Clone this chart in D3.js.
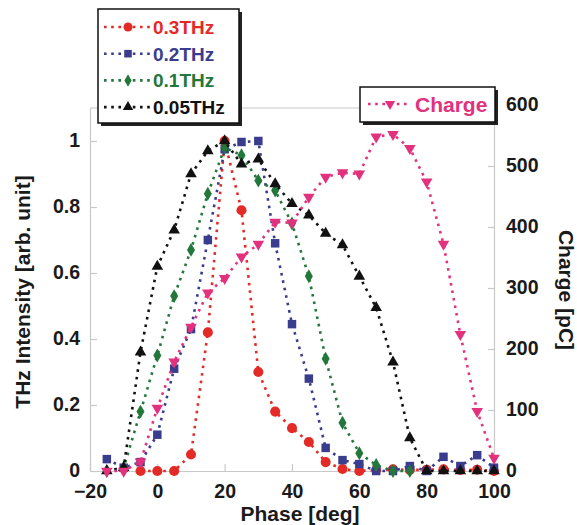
<!DOCTYPE html>
<html>
<head>
<meta charset="utf-8">
<script src="https://cdn.jsdelivr.net/npm/d3@7"></script>
<style>
  body { margin: 0; background: #fff; }
  text { font-family: "Liberation Sans", Arial, sans-serif; font-weight: bold; }
</style>
</head>
<body>
<div id="chart"></div>
<script>
var phase = [-15, -10, -5, 0, 5, 10, 15, 20, 25, 30, 35, 40, 45, 50, 55, 60, 65, 70, 75, 80, 85, 90, 95, 100];

var thz03 = [null, null, 0, 0, 0, 0.05, 0.42, 1.0, 0.79, 0.30, 0.18, 0.13, 0.088, 0.027, 0.006, 0, 0.003, 0.005, 0.003, 0.004, 0.005, 0.003, 0.004, 0];
var thz02 = [0.036, 0.01, 0.027, 0.11, 0.31, 0.43, 0.70, 0.975, 0.997, 1.0, 0.69, 0.445, 0.28, 0.07, 0.033, 0.021, 0, 0, 0.015, 0, 0.043, 0.015, 0.048, 0.01];
var thz01 = [0, 0.01, 0.18, 0.35, 0.53, 0.67, 0.84, 0.98, 0.957, 0.88, 0.85, 0.75, 0.59, 0.34, 0.146, 0.054, 0.018, 0, 0, null, null, null, null, null];
var thz005 = [0, 0.01, 0.36, 0.62, 0.73, 0.90, 0.97, 1.0, 0.93, 0.945, 0.87, 0.81, 0.775, 0.72, 0.685, 0.59, 0.495, 0.33, 0.10, 0, 0, 0, 0, 0];
var charge = [0, 0, 15, 103, 179, 236, 292, 316, 351, 372, 408, 407, 449, 482, 489, 487, 548, 552, 529, 474, 372, 224, 98, 21];

var xTicks = [-20, 0, 20, 40, 60, 80, 100];
var yTicks = [0, 0.2, 0.4, 0.6, 0.8, 1];
var y2Ticks = [0, 100, 200, 300, 400, 500, 600];

var series = [
  {name: "0.3THz", values: thz03, color: "#e42a26", symbol: d3.symbolCircle, size: 80},
  {name: "0.2THz", values: thz02, color: "#3a3c8e", symbol: d3.symbolSquare, size: 72},
  {name: "0.1THz", values: thz01, color: "#23773a", symbol: d3.symbolDiamond, size: 56},
  {name: "0.05THz", values: thz005, color: "#111111", symbol: d3.symbolTriangle, size: 58}
];
var pink = "#e2317d";

var W = 577, H = 525;
var margin = {top: 108, right: 83, bottom: 54, left: 90};
var width = W - margin.left - margin.right,
    height = H - margin.top - margin.bottom;

var svg = d3.select("#chart").append("svg")
  .attr("width", W).attr("height", H);
var g = svg.append("g").attr("transform", `translate(${margin.left},${margin.top})`);

var x = d3.scaleLinear().domain([-20, 100]).range([0, width]);
var y = d3.scaleLinear().domain([0, 1.1]).range([height, 0]);
var y2 = d3.scaleLinear().domain([0, 600]).range([height, -3]);

// axes (light grey, inward ticks)
var gx = g.append("g").attr("transform", `translate(0,${height})`)
  .call(d3.axisBottom(x).tickValues(xTicks).tickSize(-7).tickSizeOuter(0).tickPadding(13));
var gy = g.append("g")
  .call(d3.axisLeft(y).tickValues(yTicks).tickFormat(d => d).tickSize(-7).tickSizeOuter(0).tickPadding(10));
var gy2 = g.append("g").attr("transform", `translate(${width},0)`)
  .call(d3.axisRight(y2).tickValues(y2Ticks).tickSize(-6).tickSizeOuter(0).tickPadding(12));

[gx, gy, gy2].forEach(a => {
  a.select(".domain").attr("stroke", "#c8c8c8").attr("stroke-width", 1.2);
  a.selectAll(".tick line").attr("stroke", "#c8c8c8").attr("stroke-width", 1.2);
  a.selectAll(".tick text").attr("fill", "#1a1a1a").style("font-size", "19.5px");
});
gy.selectAll(".tick text").attr("dy", "0.3em");
gy2.selectAll(".tick text").attr("dy", "0.3em");
g.append("line").attr("x1", 0).attr("x2", width).attr("y1", 0).attr("y2", 0)
  .attr("stroke", "#c8c8c8").attr("stroke-width", 1.2);

// axis titles
svg.append("text")
  .attr("transform", `translate(30,292) rotate(-90)`)
  .attr("text-anchor", "middle").style("font-size", "21px").attr("fill", "#1a1a1a")
  .text("THz Intensity [arb. unit]");
svg.append("text")
  .attr("transform", `translate(559,290) rotate(90)`)
  .attr("text-anchor", "middle").style("font-size", "21px").attr("fill", "#1a1a1a")
  .text("Charge [pC]");
svg.append("text")
  .attr("x", 300).attr("y", 521)
  .attr("text-anchor", "middle").style("font-size", "21px").attr("fill", "#1a1a1a")
  .text("Phase [deg]");

function drawSeries(vals, color, symbol, size, yScale, rot) {
  var pts = phase.map((p, i) => ({p: p, v: vals[i]})).filter(d => d.v != null);
  var line = d3.line().x(d => x(d.p)).y(d => yScale(d.v));
  g.append("path").datum(pts)
    .attr("d", line)
    .attr("fill", "none")
    .attr("stroke", color)
    .attr("stroke-width", 2.6)
    .attr("stroke-dasharray", "2.6,5");
  g.selectAll(null).data(pts).enter().append("path")
    .attr("d", d3.symbol().type(symbol).size(size))
    .attr("transform", d => `translate(${x(d.p)},${yScale(d.v)}) rotate(${rot || 0})`)
    .attr("fill", color);
}

series.forEach(s => drawSeries(s.values, s.color, s.symbol, s.size, y));
drawSeries(charge, pink, d3.symbolTriangle, 58, y2, 180);

// legend 1
var lg = svg.append("g");
lg.append("rect").attr("x", 101).attr("y", 12).attr("width", 141).attr("height", 114).attr("fill", "#222");
lg.append("rect").attr("x", 98).attr("y", 9).attr("width", 141).attr("height", 114)
  .attr("fill", "#fff").attr("stroke", "#111").attr("stroke-width", 1.5);
series.forEach((s, i) => {
  var cy = 27 + i * 26.7;
  lg.append("line").attr("x1", 104).attr("x2", 150).attr("y1", cy).attr("y2", cy)
    .attr("stroke", s.color).attr("stroke-width", 2.6).attr("stroke-dasharray", "2.6,4.6");
  lg.append("path").attr("d", d3.symbol().type(s.symbol).size(s.size * 0.8))
    .attr("transform", `translate(128,${cy})`).attr("fill", s.color);
  lg.append("text").attr("x", 153).attr("y", cy).attr("dy", "0.36em")
    .style("font-size", "19px").attr("fill", s.color).text(s.name);
});

// legend 2
var lg2 = svg.append("g");
lg2.append("rect").attr("x", 363).attr("y", 90).attr("width", 135).attr("height", 35).attr("fill", "#222");
lg2.append("rect").attr("x", 360).attr("y", 87).attr("width", 135).attr("height", 35)
  .attr("fill", "#fff").attr("stroke", "#111").attr("stroke-width", 1.5);
lg2.append("line").attr("x1", 368).attr("x2", 411).attr("y1", 104).attr("y2", 104)
  .attr("stroke", pink).attr("stroke-width", 2.6).attr("stroke-dasharray", "2.6,4.6");
lg2.append("path").attr("d", d3.symbol().type(d3.symbolTriangle).size(46))
  .attr("transform", `translate(390,104) rotate(180)`).attr("fill", pink);
lg2.append("text").attr("x", 415).attr("y", 104).attr("dy", "0.36em")
  .style("font-size", "21px").attr("fill", pink).text("Charge");
</script>
</body>
</html>
